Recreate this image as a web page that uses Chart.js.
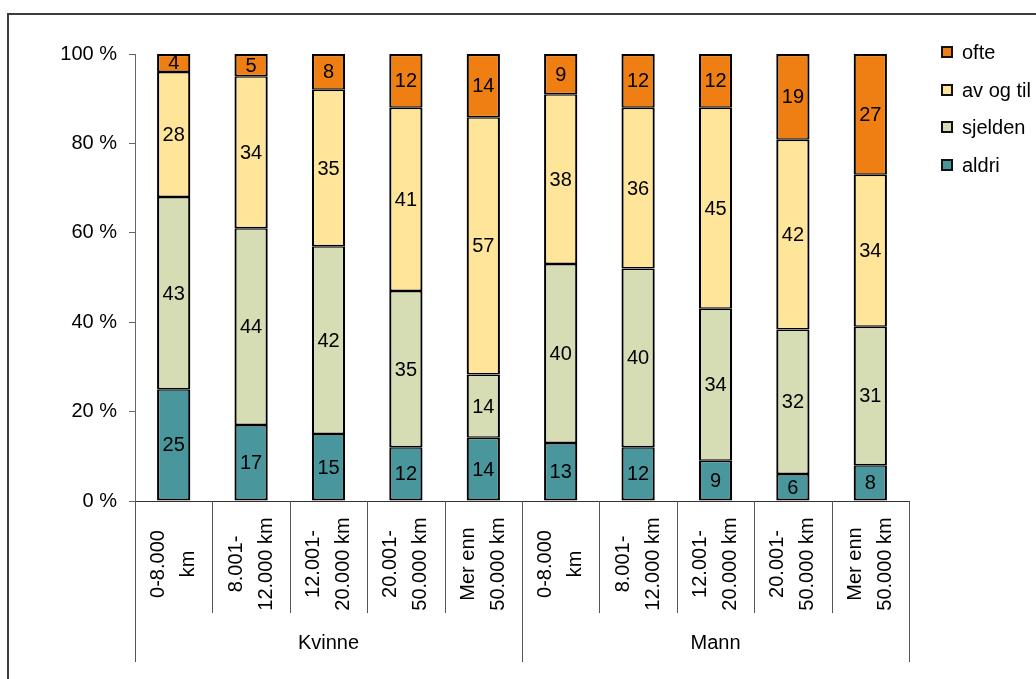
<!DOCTYPE html>
<html>
<head>
<meta charset="utf-8">
<script src="https://cdn.jsdelivr.net/npm/chart.js@4.4.1/dist/chart.umd.min.js"></script>
<style>
  html, body { margin: 0; padding: 0; background: #ffffff; }
  #wrap { width: 1036px; height: 679px; }
</style>
</head>
<body>
<div id="wrap"><canvas id="c" width="1036" height="679"></canvas></div>
<script>
// Distance bands, split by gender
const categories = [
  ['0-8.000', 'km'], ['8.001-', '12.000 km'], ['12.001-', '20.000 km'], ['20.001-', '50.000 km'], ['Mer enn', '50.000 km'],
  ['0-8.000', 'km'], ['8.001-', '12.000 km'], ['12.001-', '20.000 km'], ['20.001-', '50.000 km'], ['Mer enn', '50.000 km']
];
const groups = ['Kvinne', 'Mann'];
const groupSize = 5;

// Answer shares (%) per band
const aldri   = [25, 17, 15, 12, 14, 13, 12,  9,  6,  8];
const sjelden = [43, 44, 42, 35, 14, 40, 40, 34, 32, 31];
const avOgTil = [28, 34, 35, 41, 57, 38, 36, 45, 42, 34];
const ofte    = [ 4,  5,  8, 12, 14,  9, 12, 12, 19, 27];

const yTicks = [0, 20, 40, 60, 80, 100];

const FONT = "'Liberation Sans', Arial, Helvetica, sans-serif";

// 100 % stacking: each column is scaled to its own total
const totals = categories.map((_, i) => aldri[i] + sjelden[i] + avOgTil[i] + ofte[i]);
const share = arr => arr.map((v, i) => v / totals[i] * 100);

const seriesDefs = [
  { label: 'aldri',     counts: aldri,   color: '#4A969D', bw: { top: 1.5, bottom: 2, left: 2.2, right: 2.2 } },
  { label: 'sjelden',   counts: sjelden, color: '#D6DDB5', bw: { top: 1.5, bottom: 1.5, left: 2.2, right: 2.2 } },
  { label: 'av og til', counts: avOgTil, color: '#FFE59A', bw: { top: 1.5, bottom: 1.5, left: 2.2, right: 2.2 } },
  { label: 'ofte',      counts: ofte,    color: '#F07F13', bw: { top: 2.2, bottom: 1.5, left: 2.2, right: 2.2 } }
];

const datasets = seriesDefs.map(s => ({
  label: s.label,
  counts: s.counts,
  data: share(s.counts),
  backgroundColor: s.color,
  borderColor: '#000000',
  borderWidth: s.bw,
  borderSkipped: false,
  inflateAmount: 0,
  categoryPercentage: 1.0,
  barPercentage: 0.43
}));

const decorPlugin = {
  id: 'decor',
  afterDraw(chart) {
    const ctx = chart.ctx;
    const xs = chart.scales.x;
    const area = chart.chartArea;
    const n = categories.length;
    const cw = (xs.right - xs.left) / n;

    ctx.save();

    // value labels centred in every segment
    ctx.fillStyle = '#000';
    ctx.font = '20px ' + FONT;
    ctx.textAlign = 'center';
    ctx.textBaseline = 'middle';
    chart.data.datasets.forEach((ds, di) => {
      const meta = chart.getDatasetMeta(di);
      meta.data.forEach((el, i) => {
        const p = el.getProps(['x', 'y', 'base'], true);
        ctx.fillText(String(ds.counts[i]), p.x, (p.y + p.base) / 2 + 1);
      });
    });

    // category separators below the axis
    ctx.strokeStyle = '#555';
    ctx.lineWidth = 1;
    for (let i = 0; i <= n; i++) {
      const x = Math.round(xs.getPixelForValue(Math.min(i, n - 1)) + (i === n ? cw / 2 : -cw / 2)) + 0.5;
      const long = i % groupSize === 0;
      ctx.beginPath();
      ctx.moveTo(x, area.bottom);
      ctx.lineTo(x, long ? 662 : 613);
      ctx.stroke();
    }

    // rotated category labels
    ctx.fillStyle = '#000';
    ctx.font = '20px ' + FONT;
    categories.forEach((lines, i) => {
      const cx = xs.getPixelForValue(i);
      const cy = 564;
      ctx.save();
      ctx.translate(cx, cy);
      ctx.rotate(-Math.PI / 2);
      ctx.textAlign = 'center';
      ctx.textBaseline = 'middle';
      lines.forEach((t, k) => {
        ctx.fillText(t, 0, (k - (lines.length - 1) / 2) * 30);
      });
      ctx.restore();
    });

    // group labels
    ctx.textAlign = 'center';
    ctx.textBaseline = 'middle';
    groups.forEach((g, gi) => {
      const a = xs.getPixelForValue(gi * groupSize) - cw / 2;
      const b = xs.getPixelForValue(gi * groupSize + groupSize - 1) + cw / 2;
      ctx.fillText(g, (a + b) / 2, 643);
    });

    // legend, top series first
    const order = chart.data.datasets.map((d, i) => i).reverse();
    const rowY = [52, 90, 127, 165];
    order.forEach((di, r) => {
      const ds = chart.data.datasets[di];
      const y = rowY[r];
      ctx.fillStyle = '#111';
      ctx.fillRect(941, y - 6, 12, 12);
      ctx.fillStyle = ds.backgroundColor;
      ctx.fillRect(943, y - 4, 8, 8);
      ctx.fillStyle = '#000';
      ctx.textAlign = 'left';
      ctx.fillText(ds.label, 962, y + 1);
    });

    // frame around the whole figure
    ctx.fillStyle = '#3c3c3c';
    ctx.fillRect(8, 13, 1036 - 8, 2);
    ctx.fillRect(7, 13, 2, 679 - 13);

    ctx.restore();
  }
};

new Chart(document.getElementById('c'), {
  type: 'bar',
  data: { labels: categories, datasets },
  options: {
    responsive: false,
    animation: false,
    devicePixelRatio: 1,
    layout: { padding: { left: 7, top: 54, right: 127, bottom: 0 } },
    plugins: {
      legend: { display: false },
      tooltip: { enabled: false }
    },
    scales: {
      x: {
        stacked: true,
        offset: true,
        ticks: { display: false },
        grid: { display: false },
        border: { display: true, color: '#333', width: 1 },
        afterFit(s) { s.height = 679 - 501; s.paddingLeft = 0; s.paddingRight = 0; }
      },
      y: {
        stacked: true,
        min: 0,
        max: 100,
        afterBuildTicks(s) { s.ticks = yTicks.map(v => ({ value: v })); },
        ticks: {
          color: '#000',
          padding: 12,
          font: { size: 20, family: FONT },
          callback: v => v + ' %'
        },
        grid: { drawOnChartArea: false, drawTicks: true, tickLength: 6, color: '#666' },
        border: { display: true, color: '#666', width: 1 },
        afterFit(s) { s.width = 128; s.paddingTop = 0; s.paddingBottom = 0; }
      }
    }
  },
  plugins: [decorPlugin]
});
</script>
</body>
</html>
